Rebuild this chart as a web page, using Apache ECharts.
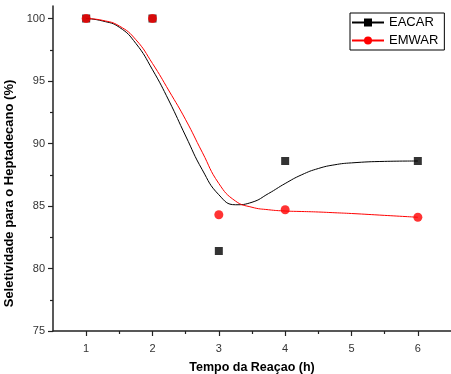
<!DOCTYPE html>
<html><head><meta charset="utf-8">
<script src="https://cdn.jsdelivr.net/npm/echarts@6/dist/echarts.min.js"></script>
<style>html,body{margin:0;padding:0;background:#fff}#c{width:451px;height:374px}</style>
</head><body><div id="c"></div>
<script>
// measured points
const times = [1, 2, 3, 4, 6];
const eacar = [100, 100, 81.4, 88.6, 88.6];
const emwar = [100, 100, 84.3, 84.7, 84.1];
// fitted curves
const fitX = [1, 1.25, 1.5, 1.75, 2, 2.25, 2.5, 2.75, 3, 3.25, 3.5, 3.75, 4, 4.25, 4.5, 4.75, 5, 5.5, 6];
const fitEACAR = [100, 99.8, 99.3, 98.0, 95.9, 93.4, 90.6, 87.9, 85.9, 85.1, 85.3, 86.0, 86.8, 87.5, 88.0, 88.3, 88.45, 88.57, 88.6];
const fitEMWAR = [100, 99.85, 99.4, 98.3, 96.4, 94.2, 91.9, 89.3, 86.8, 85.4, 84.9, 84.7, 84.6, 84.56, 84.52, 84.46, 84.4, 84.25, 84.1];
const xTicks = [1, 2, 3, 4, 5, 6];
const xMinor = [1.5, 2.5, 3.5, 4.5, 5.5];
const yTicks = [75, 80, 85, 90, 95, 100];
const yMinor = [77.5, 82.5, 87.5, 92.5, 97.5];

const pair = (xs, ys) => xs.map((x, i) => [x, ys[i]]);
const font = 'Liberation Sans, Arial, sans-serif';
const axisCol = '#222';

const chart = echarts.init(document.getElementById('c'));
chart.setOption({
  animation: false,
  grid: {left: 53, right: 0, top: 6, bottom: 43, outerBoundsMode: 'none', containLabel: false},
  legend: {
    orient: 'vertical', left: 350, top: 13,
    data: ['EACAR', 'EMWAR'],
    borderColor: '#000', borderWidth: 1, borderRadius: 0,
    padding: [3, 6, 3, 1], itemGap: 5,
    itemWidth: 32, itemHeight: 10,
    textStyle: {fontFamily: font, fontSize: 13, color: '#000'}
  },
  xAxis: [{
    type: 'value', min: 0.5, max: 6.5,
    name: 'Tempo da Reaçao (h)', nameLocation: 'middle', nameGap: 30,
    nameTextStyle: {fontFamily: font, fontSize: 12.5, fontWeight: 'bold', color: '#000'},
    axisLine: {show: true, lineStyle: {color: axisCol, width: 1.5}},
    axisTick: {show: true, inside: false, length: 5, customValues: xTicks, lineStyle: {color: axisCol, width: 1.2}},
    axisLabel: {customValues: xTicks, margin: 12, fontFamily: font, fontSize: 11, color: '#333'},
    splitLine: {show: false}
  }, {
    type: 'value', min: 0.5, max: 6.5, position: 'bottom',
    axisLine: {show: false},
    axisTick: {show: true, inside: false, length: 3, customValues: xMinor, lineStyle: {color: axisCol, width: 1.2}},
    axisLabel: {show: false},
    splitLine: {show: false}
  }],
  yAxis: [{
    type: 'value', min: 75, max: 101,
    name: 'Seletividade para o Heptadecano (%)', nameLocation: 'middle', nameGap: 30,
    nameTextStyle: {fontFamily: font, fontSize: 13, fontWeight: 'bold', color: '#000', padding: [0, 50, 0, 0]},
    axisLine: {show: true, lineStyle: {color: axisCol, width: 1.5}},
    axisTick: {show: true, inside: false, length: 5, customValues: yTicks, lineStyle: {color: axisCol, width: 1.2}},
    axisLabel: {customValues: yTicks, margin: 8, fontFamily: font, fontSize: 11, color: '#333'},
    splitLine: {show: false}
  }, {
    type: 'value', min: 75, max: 101, position: 'left',
    axisLine: {show: false},
    axisTick: {show: true, inside: false, length: 3, customValues: yMinor, lineStyle: {color: axisCol, width: 1.2}},
    axisLabel: {show: false},
    splitLine: {show: false}
  }],
  series: [
    {name: 'EACAR', type: 'line', smooth: 0.5, data: pair(fitX, fitEACAR),
     showSymbol: false, symbol: 'rect', symbolSize: 8,
     lineStyle: {color: '#000', width: 1}, itemStyle: {color: '#000'}, z: 2},
    {name: 'EMWAR', type: 'line', smooth: 0.5, data: pair(fitX, fitEMWAR),
     showSymbol: false, symbol: 'circle', symbolSize: 9,
     lineStyle: {color: '#ff0000', width: 1}, itemStyle: {color: '#ff0000'}, z: 3},
    {name: 'EACAR pts', type: 'scatter', data: pair(times, eacar),
     symbol: 'rect', symbolSize: 8, itemStyle: {color: '#000'}, z: 4},
    {name: 'EMWAR pts', type: 'scatter', data: pair(times, emwar),
     symbol: 'circle', symbolSize: 9, itemStyle: {color: '#ff0000'}, z: 5}
  ]
});
</script></body></html>
